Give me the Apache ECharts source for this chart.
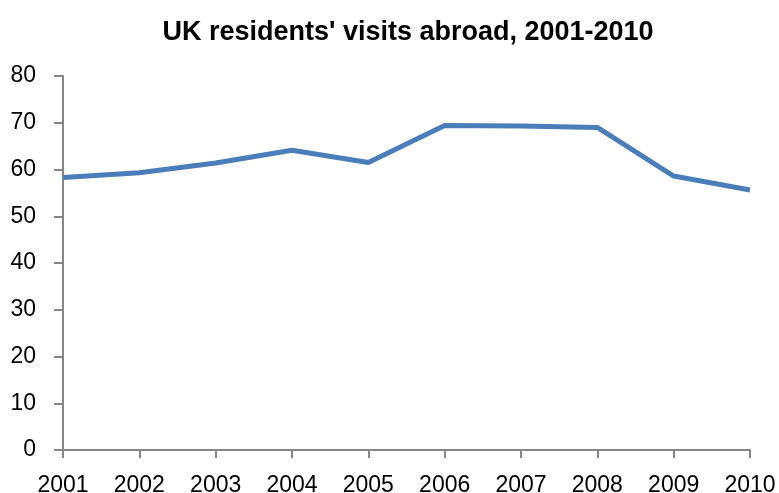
<!DOCTYPE html>
<html>
<head>
<meta charset="utf-8">
<script src="https://cdn.jsdelivr.net/npm/echarts@6/dist/echarts.min.js"></script>
<style>
  html, body { margin: 0; padding: 0; background: #fff; }
  #chart { width: 779px; height: 493px; }
</style>
</head>
<body>
<div id="chart"></div>
<script>
const years = ['2001', '2002', '2003', '2004', '2005', '2006', '2007', '2008', '2009', '2010']
const visits = [58.3, 59.3, 61.4, 64.1, 61.5, 69.4, 69.3, 69.0, 58.6, 55.6]

const axisColor = '#868686'
const font = '"Liberation Sans", Arial, sans-serif'

const chart = echarts.init(document.getElementById('chart'))

const option = {
  animation: false,
  title: {
    text: "UK residents' visits abroad, 2001-2010",
    left: 403,
    top: 14,
    textAlign: 'center',
    textStyle: {
      fontFamily: font,
      fontSize: 27,
      fontWeight: 'bold',
      color: '#000'
    }
  },
  grid: {
    left: 63,
    right: 29,
    top: 76,
    bottom: 43,
    containLabel: false,
    outerBoundsMode: 'none'
  },
  xAxis: {
    type: 'category',
    data: years,
    boundaryGap: false,
    axisLine: { lineStyle: { color: axisColor, width: 2 } },
    axisTick: { show: true, length: 8, lineStyle: { color: axisColor, width: 2 } },
    axisLabel: { color: '#000', fontFamily: font, fontSize: 23, margin: 24 },
    splitLine: { show: false }
  },
  yAxis: {
    type: 'value',
    min: 0,
    max: 80,
    interval: 10,
    axisLine: { show: true, lineStyle: { color: axisColor, width: 2 } },
    axisTick: { show: true, length: 9, lineStyle: { color: axisColor, width: 2 } },
    axisLabel: { color: '#000', fontFamily: font, fontSize: 23, margin: 27 },
    splitLine: { show: false }
  },
  series: [
    {
      type: 'line',
      data: visits,
      symbol: 'none',
      lineStyle: { color: '#4a7ebb', width: 5 }
    }
  ]
}

chart.setOption(option)
</script>
</body>
</html>
